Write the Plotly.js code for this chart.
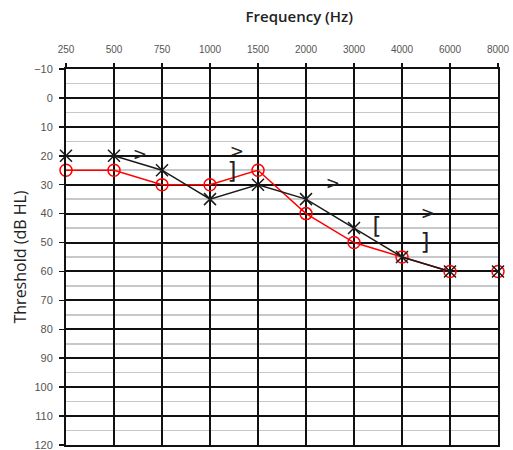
<!DOCTYPE html>
<html><head><meta charset="utf-8">
<script src="https://cdn.plot.ly/plotly-3.0.1.min.js"></script>
<style>html,body{margin:0;padding:0;background:#fff}#chart{width:513px;height:450px}</style>
</head><body><div id="chart"></div>
<script>
// Frequency tick labels (categories)
const freqLabels = ['250','500','750','1000','1500','2000','3000','4000','6000','8000'];
const freqIndex = [0,1,2,3,4,5,6,7,8,9];
// Right ear (red circles), dB HL
const rightEar = [25,25,30,30,25,40,50,55,60,60];
// Left ear (black crosses), dB HL
const leftEar = [20,20,25,35,30,35,45,55,60,60];
// Bone-conduction / masking symbols (position between frequencies, dB, glyph)
const boneX = [1.54, 3.56, 3.46, 5.56, 6.48, 7.48, 7.54];
const boneY = [20, 19, 26, 30, 45, 50.5, 40.5];
const boneText = ['>', '>', ']', '>', '[', ']', '>'];

const nConn = 9; // 8000 Hz points plotted unconnected
const traces = [
  {x: freqIndex.slice(0,nConn), y: rightEar.slice(0,nConn), mode:'lines+markers', type:'scatter', cliponaxis:false,
   line:{color:'#ff0000', width:1.5},
   marker:{symbol:'circle-open', size:12, color:'#ff0000', line:{width:1.5}}},
  {x: freqIndex.slice(nConn), y: rightEar.slice(nConn), mode:'markers', type:'scatter', cliponaxis:false,
   marker:{symbol:'circle-open', size:12, color:'#ff0000', line:{width:1.5}}},
  {x: freqIndex.slice(0,nConn), y: leftEar.slice(0,nConn), mode:'lines+markers', type:'scatter', cliponaxis:false,
   line:{color:'#1a1a1a', width:1.5},
   marker:{symbol:'x-thin-open', size:12, color:'#1a1a1a', line:{width:1.5}}},
  {x: freqIndex.slice(nConn), y: leftEar.slice(nConn), mode:'markers', type:'scatter', cliponaxis:false,
   marker:{symbol:'x-thin-open', size:12, color:'#1a1a1a', line:{width:1.5}}},
  {x: boneX, y: boneY, mode:'text', type:'scatter', text: boneText, cliponaxis:false,
   textfont:{family:'DejaVu Sans', size:boneText.map(t => t === '>' ? 17 : 23), color:'#222'},
   textposition:'middle center'}
];

const layout = {
  width:513, height:450,
  margin:{l:66, r:15, t:69, b:5},
  showlegend:false,
  paper_bgcolor:'#fff', plot_bgcolor:'#fff',
  title:{text:'Frequency (Hz)', font:{family:'Open Sans', size:15, color:'#222', weight:600},
         xref:'paper', x:0.54, xanchor:'center', yref:'container', y:0.962, yanchor:'middle'},
  xaxis:{side:'top', range:[0,9], tickvals:freqIndex, ticktext:freqLabels,
         showgrid:true, gridcolor:'#111', gridwidth:2,
         showline:true, mirror:true, linecolor:'#111', linewidth:2,
         ticks:'outside', ticklen:4, tickwidth:1.5, tickcolor:'#111', ticklabelstandoff:6,
         ticklabeloverflow:'allow',
         tickfont:{family:'Liberation Sans', size:10, color:'#555'}, zeroline:false, fixedrange:true},
  yaxis:{range:[120,-10], tickmode:'linear', tick0:-10, dtick:10,
         showgrid:true, gridcolor:'#111', gridwidth:2,
         minor:{dtick:5, tick0:-10, showgrid:true, gridcolor:'#c8c8c8', gridwidth:1.5, ticks:''},
         showline:true, mirror:true, linecolor:'#111', linewidth:2,
         ticks:'outside', ticklen:5, tickwidth:1.5, tickcolor:'#111', ticklabeloverflow:'allow',
         ticklabelstandoff:4,
         tickfont:{family:'Liberation Sans', size:11, color:'#555'}, zeroline:false,
         title:{text:'Threshold (dB HL)', font:{family:'Open Sans', size:16, color:'#222'}, standoff:4},
         fixedrange:true}
};
Plotly.newPlot('chart', traces, layout, {displayModeBar:false, staticPlot:true});
</script></body></html>
